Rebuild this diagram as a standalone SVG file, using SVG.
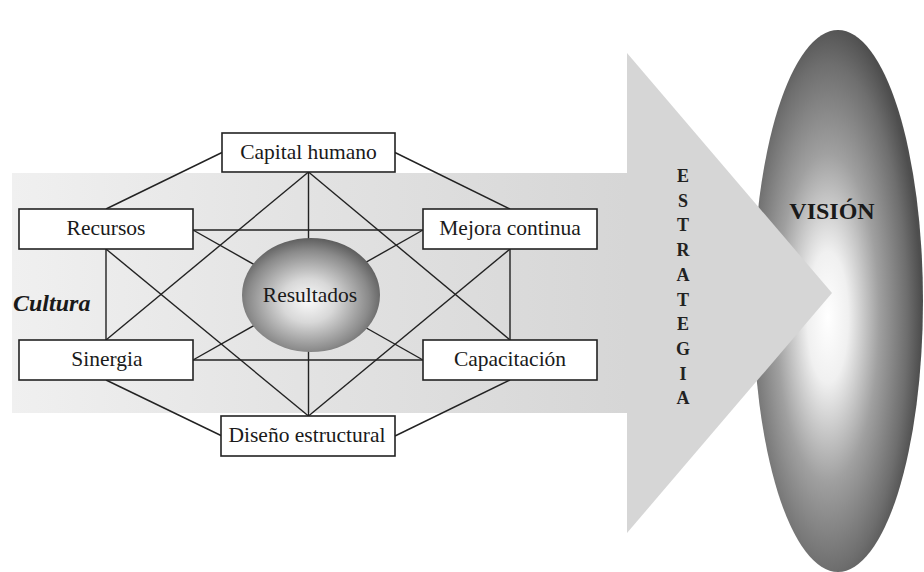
<svg xmlns="http://www.w3.org/2000/svg" width="924" height="572" viewBox="0 0 924 572">
<defs>
<linearGradient id="band" x1="0" y1="0" x2="1" y2="0">
<stop offset="0" stop-color="#f0f0f0"/>
<stop offset="0.5" stop-color="#e2e2e2"/>
<stop offset="1" stop-color="#d6d6d6"/>
</linearGradient>
<radialGradient id="res" cx="0.48" cy="0.55" r="0.55">
<stop offset="0" stop-color="#fafafa"/>
<stop offset="0.35" stop-color="#d8d8d8"/>
<stop offset="0.8" stop-color="#8a8a8a"/>
<stop offset="1" stop-color="#5e5e5e"/>
</radialGradient>
<radialGradient id="vis" cx="0.44" cy="0.53" r="0.55">
<stop offset="0" stop-color="#ffffff"/>
<stop offset="0.22" stop-color="#f0f0f0"/>
<stop offset="0.55" stop-color="#a0a0a0"/>
<stop offset="0.85" stop-color="#6e6e6e"/>
<stop offset="1" stop-color="#4e4e4e"/>
</radialGradient>
<style>
.serif{font-family:"Liberation Serif","Times New Roman","DejaVu Serif",serif}
.box{fill:#ffffff;stroke:#222222;stroke-width:1.6}
.lbl{font-size:21.5px;fill:#1a1a1a;text-anchor:middle}
.ln{stroke:#222222;stroke-width:1.4;fill:none}
.let{font-size:18px;font-weight:bold;fill:#222222;text-anchor:middle}
</style>
</defs>
<rect width="924" height="572" fill="#ffffff"/>
<g id="vision">
<ellipse cx="838" cy="301" rx="85" ry="271" fill="url(#vis)"/>
<text class="serif" x="832" y="219" font-size="24" font-weight="bold" fill="#1a1a1a" text-anchor="middle">VISIÓN</text>
</g>
<g id="estrategia">
<rect x="12" y="173" width="616" height="240" fill="url(#band)"/>
<polygon points="627,53 832,293 627,533" fill="#d6d6d6"/>
<g class="serif">
<text class="let" x="683" y="182">E</text>
<text class="let" x="683" y="206.7">S</text>
<text class="let" x="683" y="231.4">T</text>
<text class="let" x="683" y="256.1">R</text>
<text class="let" x="683" y="280.8">A</text>
<text class="let" x="683" y="305.5">T</text>
<text class="let" x="683" y="330.2">E</text>
<text class="let" x="683" y="354.9">G</text>
<text class="let" x="683" y="379.6">I</text>
<text class="let" x="683" y="404.3">A</text>
</g>
</g>
<g id="connectors">
<line class="ln" x1="222" y1="152.5" x2="106" y2="209"/>
<line class="ln" x1="395" y1="152.5" x2="510" y2="209"/>
<line class="ln" x1="222" y1="436" x2="106" y2="380"/>
<line class="ln" x1="395" y1="436" x2="510" y2="380"/>
<line class="ln" x1="106" y1="249" x2="106" y2="340"/>
<line class="ln" x1="510" y1="249" x2="510" y2="340"/>
<line class="ln" x1="308.5" y1="172" x2="308.5" y2="416"/>
<line class="ln" x1="308.5" y1="172" x2="106" y2="340"/>
<line class="ln" x1="308.5" y1="172" x2="510" y2="340"/>
<line class="ln" x1="308.5" y1="416" x2="106" y2="249"/>
<line class="ln" x1="308.5" y1="416" x2="510" y2="249"/>
<line class="ln" x1="193" y1="230" x2="423" y2="230"/>
<line class="ln" x1="193" y1="360" x2="423" y2="360"/>
<line class="ln" x1="193" y1="230" x2="423" y2="360"/>
<line class="ln" x1="193" y1="360" x2="423" y2="230"/>
</g>
<g id="capital-humano">
<rect class="box" x="222" y="133" width="173" height="39"/>
<text class="serif lbl" x="308.5" y="159">Capital humano</text>
</g>
<g id="recursos">
<rect class="box" x="19" y="209" width="174" height="40"/>
<text class="serif lbl" x="106" y="235">Recursos</text>
</g>
<g id="mejora-continua">
<rect class="box" x="423" y="209" width="174" height="40"/>
<text class="serif lbl" x="510" y="235">Mejora continua</text>
</g>
<g id="sinergia">
<rect class="box" x="19" y="340" width="174" height="40"/>
<text class="serif lbl" x="107" y="366">Sinergia</text>
</g>
<g id="capacitacion">
<rect class="box" x="423" y="340" width="174" height="40"/>
<text class="serif lbl" x="510" y="366">Capacitación</text>
</g>
<g id="diseno-estructural">
<rect class="box" x="221" y="416" width="174" height="40"/>
<text class="serif lbl" x="307" y="442">Diseño estructural</text>
</g>
<g id="resultados">
<ellipse cx="311" cy="295" rx="69" ry="57" fill="url(#res)"/>
<text class="serif lbl" x="310" y="302">Resultados</text>
</g>
<g id="cultura">
<text class="serif" x="13" y="311" font-size="24" font-weight="bold" font-style="italic" fill="#1a1a1a">Cultura</text>
</g>
</svg>
